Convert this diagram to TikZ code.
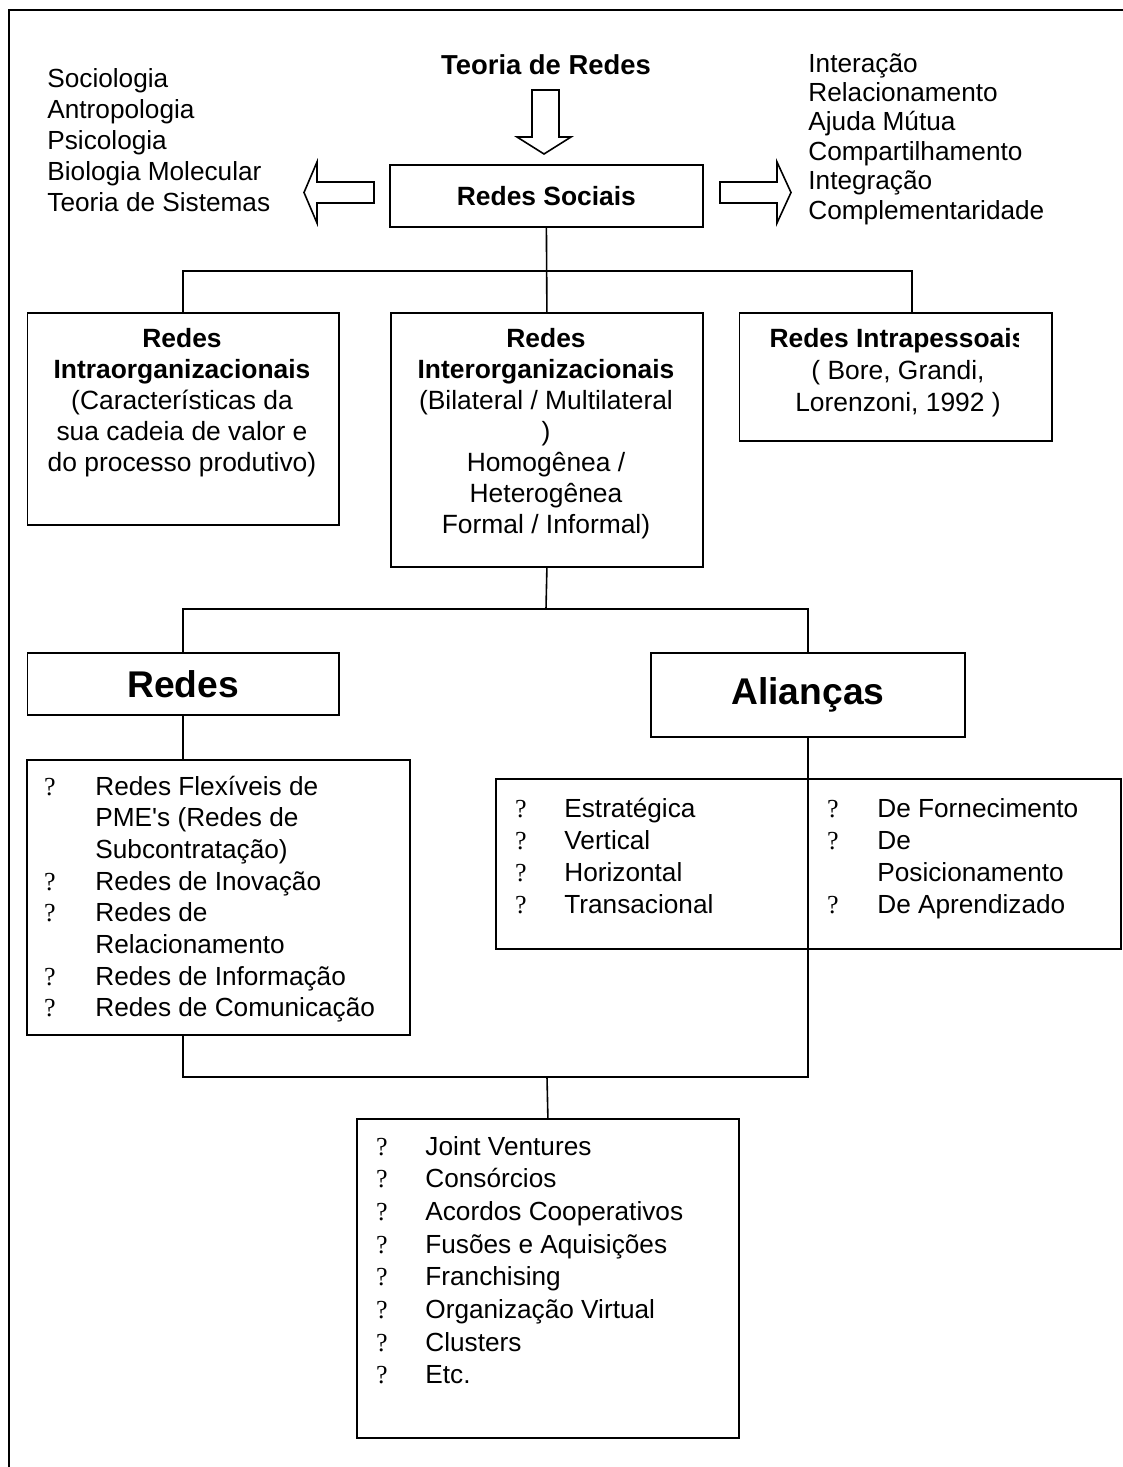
\documentclass[tikz,border=0pt]{standalone}
\usepackage{fontspec}
\setmainfont{Liberation Sans}
\newfontfamily\bulletfont{Liberation Serif}
\usetikzlibrary{calc}

% blocks of lines whose baseline is the first line
\newcommand{\blocoL}[1]{\begin{tabular}[t]{@{}l@{}}#1\end{tabular}}
\newcommand{\blocoC}[1]{\begin{tabular}[t]{@{}c@{}}#1\end{tabular}}

\begin{document}
\begin{tikzpicture}[x=0.5pt, y=-0.5pt,
        caixa/.style={draw, line width=0.9pt, inner sep=0pt, anchor=north west},
        texto/.style={font=\fontsize{13.2}{#1}\selectfont, anchor=base, inner sep=0pt},
        texto/.default=15.5pt,
        lista/.style={font=\fontsize{13.1}{#1}\selectfont, anchor=base west, inner sep=0pt},
        lista/.default=15.85pt,
        marca/.style={font=\bulletfont\fontsize{13}{15}\selectfont, anchor=base, inner sep=0pt},
        liga/.style={line width=0.8pt},
        seta/.style={line width=0.8pt, line join=miter}]

                % page and frame
                \useasboundingbox (0,0) rectangle (1123,1467);
                \draw[line width=1pt] (9,1467) -- (9,10) -- (1123,10);

                % top: title, central box and the two side lists
                \node[font=\bfseries\fontsize{13.7}{16}\selectfont] (teoria) at (546,65) {Teoria de Redes};
                \node[caixa, minimum width=156.5pt, minimum height=31pt, font=\bfseries\fontsize{13.2}{15.5}\selectfont] (sociais) at (389,164) {Redes Sociais};
                \node[lista=15.6pt] (disciplinas) at (47,87) {\blocoL{Sociologia\\Antropologia\\Psicologia\\Biologia Molecular\\Teoria de Sistemas}};
                \node[lista=14.7pt] (conceitos) at (808,72) {\blocoL{Interação\\Relacionamento\\Ajuda Mútua\\Compartilhamento\\Integração\\Complementaridade}};

                % hollow arrows
                \draw[seta] (532,90) -- (559,90) -- (559,137) -- (571,137) -- (544,154) -- (517,137) -- (532,137) -- cycle;
                \draw[seta] (374,182) -- (317,182) -- (317,162) -- (304,192.5) -- (317,223) -- (317,203) -- (374,203) -- cycle;
                \draw[seta] (720,182) -- (777,182) -- (777,162) -- (791,192.5) -- (777,223) -- (777,203) -- (720,203) -- cycle;

                % first level boxes
                \node[caixa, minimum width=155.75pt, minimum height=106pt] (intra) at (26.5,312) {};
                \node[caixa, minimum width=156pt, minimum height=127pt] (inter) at (390,312) {};
                \node[caixa, minimum width=156.25pt, minimum height=64pt] (intrap) at (738.5,312) {};

                \node[texto] (intratxt) at (182,347) {\blocoC{\textbf{Redes}\\\textbf{Intraorganizacionais}\\(Características da\\sua cadeia de valor e\\do processo produtivo)}};
                \node[texto] (intertxt) at (546,347) {\blocoC{\textbf{Redes}\\\textbf{Interorganizacionais}\\(Bilateral / Multilateral\\)\\Homogênea /\\Heterogênea\\Formal / Informal)}};
                \begin{scope}
                    \clip (740,314) rectangle (1018,438);
                    \node[texto=16pt] (intraptxt) at (898,347) {\blocoC{\textbf{Redes Intrapessoais}\\( Bore, Grandi,\\Lorenzoni, 1992 )}};
                \end{scope}

                \coordinate (bus1) at (546,271);
                \coordinate (drop3) at (912,312);
                \draw[liga] (sociais.south) -- (inter.north);
                \draw[liga] (intra.north) |- (bus1) -| (drop3);

                % second level
                \node[caixa, minimum width=155.75pt, minimum height=31pt, font=\bfseries\fontsize{18.6}{22}\selectfont] (redes) at (26.5,652) {Redes};
                \node[caixa, minimum width=157pt, minimum height=42pt, font=\bfseries\fontsize{18.6}{22}\selectfont] (aliancas) at (650,652) {Alianças};

                \coordinate (bus2) at (546,609);
                \draw[liga] (inter.south) -- (bus2);
                \draw[liga] (redes.north) |- (bus2) -| (aliancas.north);

                % lists
                \node[caixa, minimum width=191.5pt, minimum height=137.5pt] (redeslist) at (26,759) {};
                \node[caixa, minimum width=312.5pt, minimum height=85pt] (alilist) at (495,778) {};
                \node[caixa, minimum width=191pt, minimum height=159.5pt] (formas) at (356,1118) {};

                \foreach \n/\txt in {0/{Redes Flexíveis de\\PME\textquotesingle s (Redes de\\Subcontratação)}, 3/{Redes de Inovação}, 4/{Redes de\\Relacionamento}, 6/{Redes de Informação}, 7/{Redes de Comunicação}} {
                    \node[marca] (rb\n) at (50,795+31.7*\n) {?};
                    \node[lista] (rt\n) at (95,795+31.7*\n) {\blocoL{\txt}};
                }
                \foreach \txt [count=\n from 0] in {Estratégica, Vertical, Horizontal, Transacional} {
                    \node[marca] (ab\n) at (521,817+32*\n) {?};
                    \node[lista] (at\n) at (564,817+32*\n) {\txt};
                }
                \foreach \n/\txt in {0/{De Fornecimento}, 1/{De\\Posicionamento}, 3/{De Aprendizado}} {
                    \node[marca] (pb\n) at (833,817+32*\n) {?};
                    \node[lista=16pt] (pt\n) at (877,817+32*\n) {\blocoL{\txt}};
                }
                \foreach \txt [count=\n from 0] in {Joint Ventures, Consórcios, Acordos Cooperativos, Fusões e Aquisições, Franchising, Organização Virtual, Clusters, Etc.} {
                    \node[marca] (fb\n) at (382,1155+32.7*\n) {?};
                    \node[lista] (ft\n) at (425,1155+32.7*\n) {\txt};
                }

                % connectors of the lower part
                \coordinate (bus3) at (547,1077);
                \draw[liga] (redes.south) -- (redes.south |- redeslist.north);
                \draw[liga] (redeslist.south -| redes.south) |- (bus3);
                \draw[liga] (aliancas.south) |- (bus3);
                \draw[liga] (bus3) -- (formas.north);
            \end{tikzpicture}
\end{document}
